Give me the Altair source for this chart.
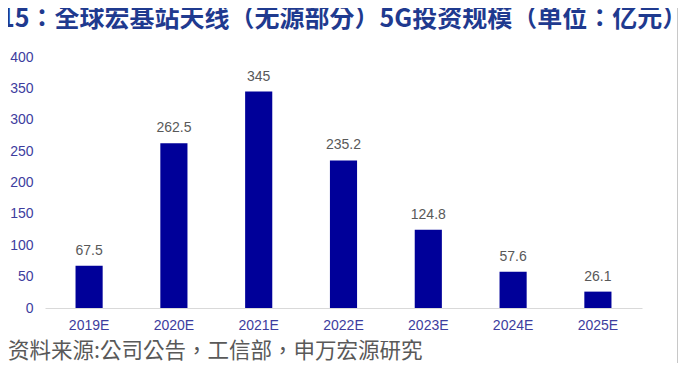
import altair as alt
import pandas as pd

years = ["2019E", "2020E", "2021E", "2022E", "2023E", "2024E", "2025E"]
values = [67.5, 262.5, 345, 235.2, 124.8, 57.6, 26.1]
value_labels = ["67.5", "262.5", "345", "235.2", "124.8", "57.6", "26.1"]
title_text = ["15：全球宏基站天线（无源部分）5G投资规模（单位：亿元）"]
source_text = ["资料来源:公司公告，工信部，申万宏源研究"]

df = pd.DataFrame({"year": years, "value": values, "label": value_labels})

W, H = 597, 251
CJK = "Noto Sans CJK TC"
LAT = "Liberation Sans"
AXIS_BLUE = "#3d3d9e"

x = alt.X("year:N", sort=years, title=None,
          scale=alt.Scale(paddingInner=0.68, paddingOuter=0.36),
          axis=alt.Axis(labelAngle=0, ticks=False, domainColor="#d9d9d9",
                        labelColor=AXIS_BLUE, labelFont=LAT, labelFontSize=14,
                        labelPadding=10, grid=False))
y = alt.Y("value:Q", title=None,
          scale=alt.Scale(domain=[0, 400], nice=False),
          axis=alt.Axis(values=[0, 50, 100, 150, 200, 250, 300, 350, 400],
                        ticks=False, domain=False, grid=False,
                        labelColor=AXIS_BLUE, labelFont=LAT, labelFontSize=14,
                        labelPadding=12))

base = alt.Chart(df)
bars = base.mark_bar(color="#000099").encode(x=x, y=y)
texts = base.mark_text(baseline="bottom", dy=-8, font=LAT, fontSize=14,
                       color="#595959").encode(x=x, y=y, text="label:N")

title = alt.Chart(pd.DataFrame({"t": title_text})).mark_text(
    align="left", baseline="middle", font=CJK, fontSize=25, fontWeight="bold",
    color="#1f3a8f").encode(x=alt.value(-45), y=alt.value(19 - 57), text="t:N")

source = alt.Chart(pd.DataFrame({"t": source_text})).mark_text(
    align="left", baseline="middle", font=CJK, fontSize=21.5,
    color="#595959").encode(x=alt.value(8 - 45), y=alt.value(352 - 57), text="t:N")

frame = alt.Chart(pd.DataFrame({"a": [0]})).mark_rule(color="#c8c8c8", strokeWidth=1).encode(
    x=alt.value(677.5 - 45), y=alt.value(-57), y2=alt.value(371 - 57))

chart = alt.layer(bars, texts, title, source, frame).properties(
    width=W, height=H,
    background="white",
    autosize=alt.AutoSizeParams(type="none"),
    padding={"left": 37, "top": 49, "right": 36, "bottom": 55},
).configure_view(stroke=None)

chart.save("out.html", embed_options={"renderer": "svg", "actions": False})
